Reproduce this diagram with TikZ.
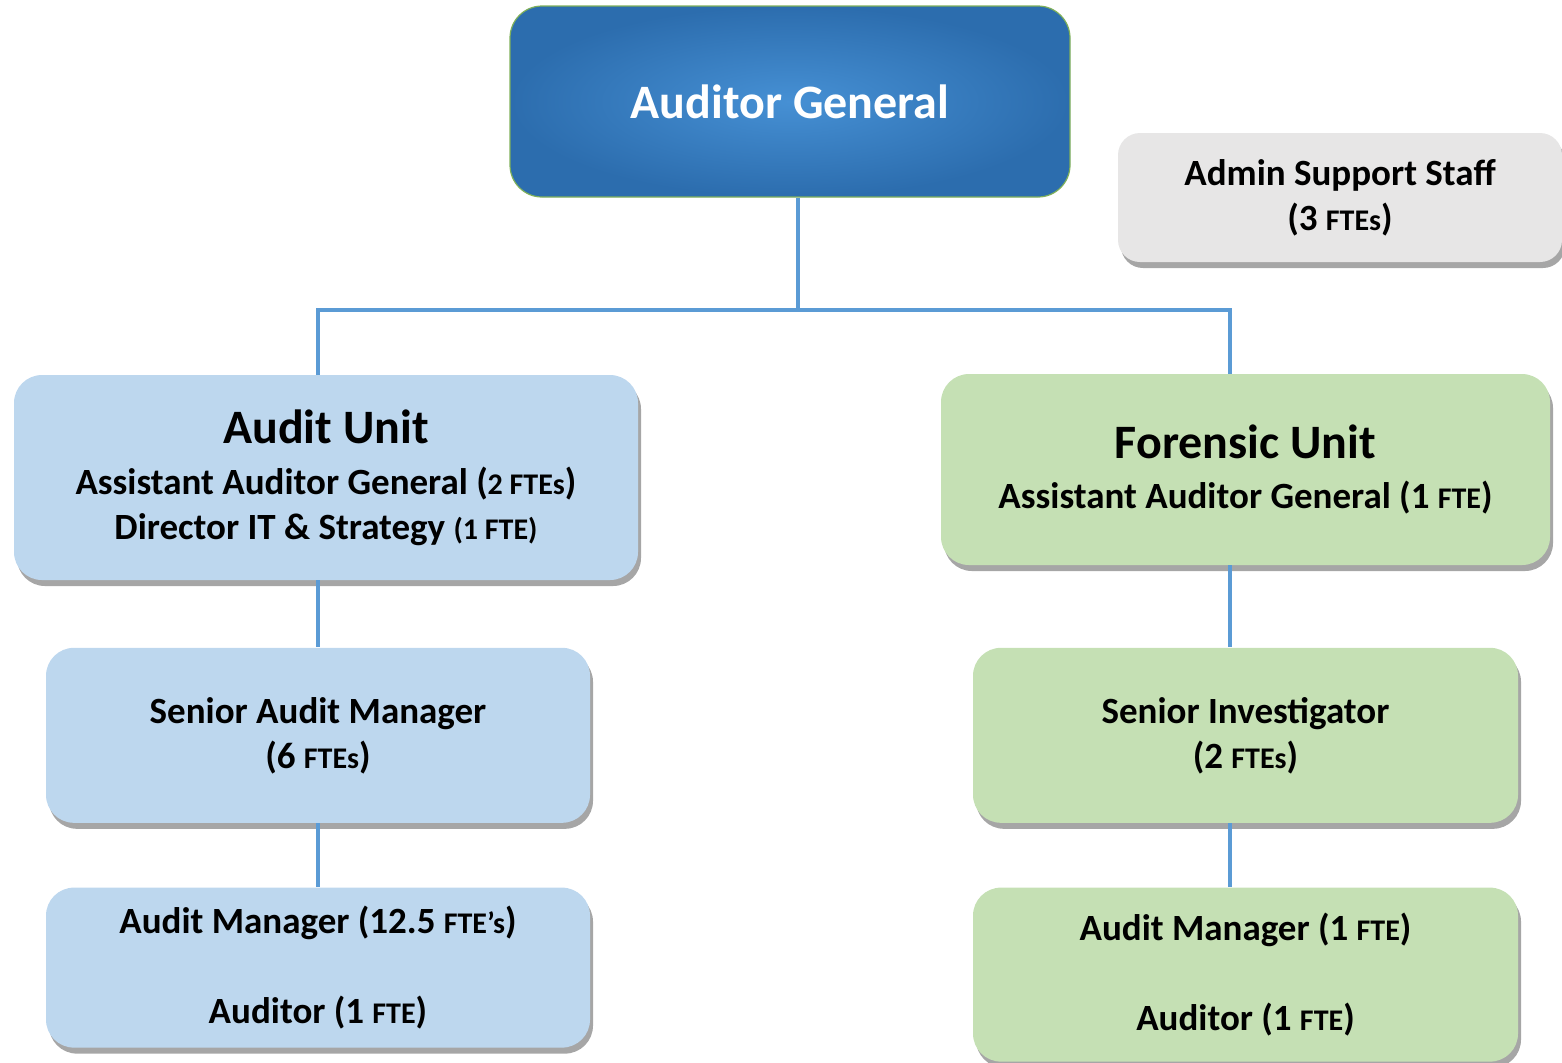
\documentclass[tikz,border=0pt]{standalone}
\usepackage{fontspec}
\setmainfont{Carlito}
\usepackage{tikz}
\usetikzlibrary{positioning, shadows}
\definecolor{linkblue}{HTML}{5B9BD5}
\definecolor{auditblue}{HTML}{BDD7EE}
\definecolor{forensicgreen}{HTML}{C5E0B4}
\definecolor{admingray}{HTML}{E7E6E6}
\definecolor{agcentre}{HTML}{4690D4}
\definecolor{agedge}{HTML}{2C6DAE}
\definecolor{agborder}{HTML}{7FB05A}
\tikzstyle{unit} = [rectangle, rounded corners=14pt, align=center, text=black, font=\bfseries\fontsize{18.5pt}{22.5pt}\selectfont, drop shadow={shadow xshift=1.5pt, shadow yshift=-3pt, opacity=0.35, fill=black}]
\tikzstyle{bluebox} = [unit, fill=auditblue]
\tikzstyle{greenbox} = [unit, fill=forensicgreen]
\tikzstyle{adminbox} = [unit, fill=admingray, rounded corners=11pt, minimum width=222pt, minimum height=64.5pt]
\tikzstyle{agbox} = [rectangle, rounded corners=16pt, draw=agborder, line width=0.6pt, shading=radial, inner color=agcentre, outer color=agedge, text=white, font=\bfseries\fontsize{24pt}{28pt}\selectfont, minimum width=280pt, minimum height=95.5pt]
\tikzstyle{line} = [draw=linkblue, line width=2pt]
\newcommand{\ftesize}[1]{{\fontsize{15pt}{18pt}\selectfont #1}}
\newcommand{\headsize}[1]{{\fontsize{24pt}{28pt}\selectfont #1}}

\begin{document}
\begin{tikzpicture}[x=0.5pt, y=-0.5pt]
  \useasboundingbox (0,0) rectangle (1562,1062);
  %% nodes
  % top level
  \node [agbox] (ag) at (790,101.5) {Auditor General};
  \node [adminbox] (admin) at (1340,197.5) {Admin Support Staff\\(3 \ftesize{FTEs})};
  % the two units
  \node [bluebox, minimum width=312pt, minimum height=102.5pt] (audit) at (326,477.5)
    {\headsize{Audit Unit}\\[3pt] Assistant Auditor General (\ftesize{2 FTEs})\\ Director IT \& Strategy \ftesize{(1 FTE)}};
  \node [greenbox, minimum width=304.5pt, minimum height=95.5pt] (forensic) at (1245.5,469.5)
    {\headsize{Forensic Unit}\\[2.5pt] Assistant Auditor General (1 \ftesize{FTE})};
  % audit unit staff
  \node [bluebox, minimum width=272pt, minimum height=87.5pt, below=33.5pt of audit, xshift=-4pt] (sam)
    {Senior Audit Manager\\(6 \ftesize{FTEs})};
  \node [bluebox, minimum width=272pt, minimum height=80pt, below=32pt of sam] (amleft)
    {Audit Manager (12.5 \ftesize{FTE’s})\\[22.5pt] Auditor (1 \ftesize{FTE})};
  % forensic unit staff
  \node [greenbox, minimum width=272.5pt, minimum height=87.5pt, below=41pt of forensic] (si)
    {Senior Investigator\\(2 \ftesize{FTEs})};
  \node [greenbox, minimum width=272.5pt, minimum height=87pt, below=32pt of si] (amright)
    {Audit Manager (1 \ftesize{FTE})\\[22.5pt] Auditor (1 \ftesize{FTE})};
  %% edges
  \coordinate (busmid) at (798,310);
  \coordinate (busleft) at (318,310);
  \coordinate (busright) at (1230,310);
  % auditor general to the units
  \path [line] (ag.south -| busmid) -- (busmid);
  \path [line] (busleft |- audit.north) -- (busleft) -- (busright) -- (busright |- forensic.north);
  % down the audit unit
  \path [line] (busleft |- audit.south) -- (busleft |- sam.north);
  \path [line] (busleft |- sam.south) -- (busleft |- amleft.north);
  % down the forensic unit
  \path [line] (busright |- forensic.south) -- (busright |- si.north);
  \path [line] (busright |- si.south) -- (busright |- amright.north);
\end{tikzpicture}
\end{document}
